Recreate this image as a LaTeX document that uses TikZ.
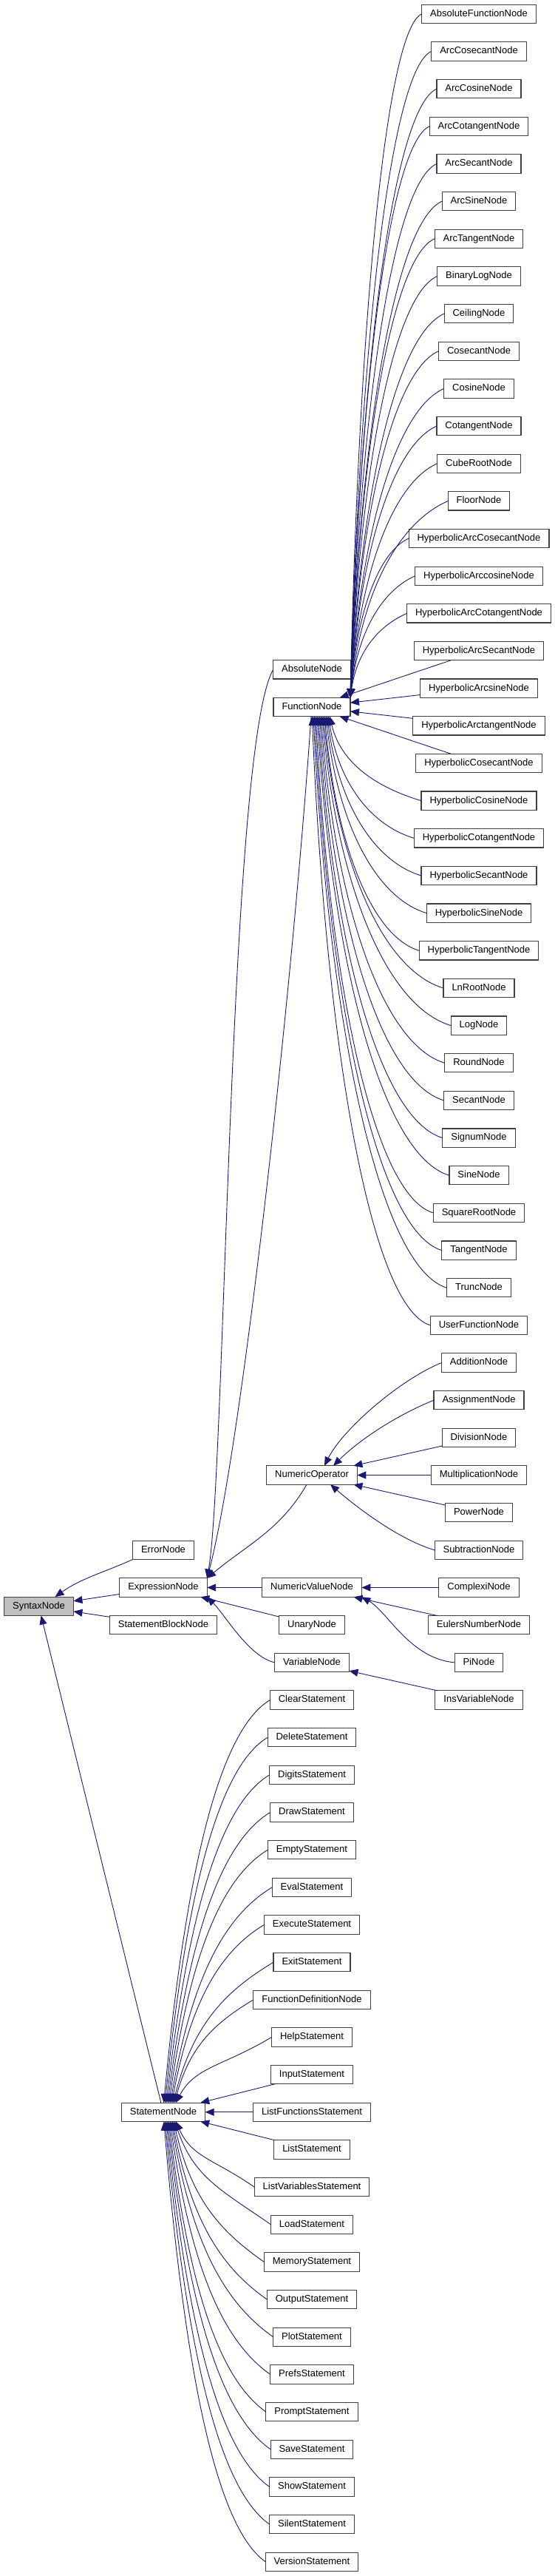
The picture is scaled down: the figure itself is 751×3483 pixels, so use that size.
\documentclass[tikz,border=0pt]{standalone}
\usepackage{fontspec}
\setmainfont{Liberation Sans}
\usetikzlibrary{arrows.meta,positioning,calc}
\definecolor{dgEdge}{HTML}{191970}
\definecolor{dgFrame}{HTML}{404040}
\definecolor{dgRoot}{HTML}{BFBFBF}
\tikzset{
  % class box
  cls/.style={rectangle,draw=dgFrame,line width=1.1pt,fill=white,
    minimum height=25.3pt,inner xsep=11.5pt,inner ysep=0pt,outer sep=0pt,
    text height=9.5pt,text depth=2.8pt,
    font=\fontsize{13pt}{15pt}\selectfont,text=black},
  % base class (grey)
  rootcls/.style={cls,fill=dgRoot},
  % inheritance arrow, tip at the parent
  inh/.style={{Triangle[length=12pt,width=10pt]}-,line width=0.9pt,draw=dgEdge},
}
\begin{document}
\begin{tikzpicture}[x=1pt,y=-1pt,node distance=25.36pt]
  \useasboundingbox (0,0) rectangle (751,3483);

  % right column
  \node[cls] (afn) at (648,18.8) {AbsoluteFunctionNode};
  \node[cls,below=of afn] (acsc) {ArcCosecantNode};
  \node[cls,below=of acsc] (acos) {ArcCosineNode};
  \node[cls,below=of acos] (acot) {ArcCotangentNode};
  \node[cls,below=of acot] (asec) {ArcSecantNode};
  \node[cls,below=of asec] (asin) {ArcSineNode};
  \node[cls,below=of asin] (atan) {ArcTangentNode};
  \node[cls,below=of atan] (blog) {BinaryLogNode};
  \node[cls,below=of blog] (ceil) {CeilingNode};
  \node[cls,below=of ceil] (csc) {CosecantNode};
  \node[cls,below=of csc] (cos) {CosineNode};
  \node[cls,below=of cos] (cot) {CotangentNode};
  \node[cls,below=of cot] (cbrt) {CubeRootNode};
  \node[cls,below=of cbrt] (flr) {FloorNode};
  \node[cls,below=of flr] (hacsc) {HyperbolicArcCosecantNode};
  \node[cls,below=of hacsc] (hacos) {HyperbolicArccosineNode};
  \node[cls,below=of hacos] (hacot) {HyperbolicArcCotangentNode};
  \node[cls,below=of hacot] (hasec) {HyperbolicArcSecantNode};
  \node[cls,below=of hasec] (hasin) {HyperbolicArcsineNode};
  \node[cls,below=of hasin] (hatan) {HyperbolicArctangentNode};
  \node[cls,below=of hatan] (hcsc) {HyperbolicCosecantNode};
  \node[cls,below=of hcsc] (hcos) {HyperbolicCosineNode};
  \node[cls,below=of hcos] (hcot) {HyperbolicCotangentNode};
  \node[cls,below=of hcot] (hsec) {HyperbolicSecantNode};
  \node[cls,below=of hsec] (hsin) {HyperbolicSineNode};
  \node[cls,below=of hsin] (htan) {HyperbolicTangentNode};
  \node[cls,below=of htan] (lnr) {LnRootNode};
  \node[cls,below=of lnr] (lg) {LogNode};
  \node[cls,below=of lg] (rnd) {RoundNode};
  \node[cls,below=of rnd] (sec) {SecantNode};
  \node[cls,below=of sec] (sgn) {SignumNode};
  \node[cls,below=of sgn] (sin) {SineNode};
  \node[cls,below=of sin] (sqr) {SquareRootNode};
  \node[cls,below=of sqr] (tng) {TangentNode};
  \node[cls,below=of tng] (trc) {TruncNode};
  \node[cls,below=of trc] (ufn) {UserFunctionNode};
  \node[cls,below=of ufn] (add) {AdditionNode};
  \node[cls,below=of add] (asg) {AssignmentNode};
  \node[cls,below=of asg] (dvn) {DivisionNode};
  \node[cls,below=of dvn] (mul) {MultiplicationNode};
  \node[cls,below=of mul] (pwr) {PowerNode};
  \node[cls,below=of pwr] (sbt) {SubtractionNode};
  \node[cls,below=of sbt] (cpx) {ComplexiNode};
  \node[cls,below=of cpx] (eul) {EulersNumberNode};
  \node[cls,below=of eul] (pin) {PiNode};
  \node[cls,below=of pin] (ivn) {InsVariableNode};

  % middle column
  \node[cls] (abn) at (422,905.3) {AbsoluteNode};
  \node[cls,below=of abn] (fn) {FunctionNode};
  \node[cls] (nop) at (abn |- mul) {NumericOperator};
  \node[cls] (nvn) at (abn |- cpx) {NumericValueNode};
  \node[cls] (un) at (abn |- eul) {UnaryNode};
  \node[cls] (vn) at (abn |- pin) {VariableNode};
  \node[cls] (clr) at (abn |- ivn) {ClearStatement};
  \node[cls,below=of clr] (del) {DeleteStatement};
  \node[cls,below=of del] (dig) {DigitsStatement};
  \node[cls,below=of dig] (drw) {DrawStatement};
  \node[cls,below=of drw] (emp) {EmptyStatement};
  \node[cls,below=of emp] (evl) {EvalStatement};
  \node[cls,below=of evl] (exe) {ExecuteStatement};
  \node[cls,below=of exe] (ext) {ExitStatement};
  \node[cls,below=of ext] (fdn) {FunctionDefinitionNode};
  \node[cls,below=of fdn] (hlp) {HelpStatement};
  \node[cls,below=of hlp] (inp) {InputStatement};
  \node[cls,below=of inp] (lfs) {ListFunctionsStatement};
  \node[cls,below=of lfs] (lst) {ListStatement};
  \node[cls,below=of lst] (lvs) {ListVariablesStatement};
  \node[cls,below=of lvs] (lod) {LoadStatement};
  \node[cls,below=of lod] (mem) {MemoryStatement};
  \node[cls,below=of mem] (opt) {OutputStatement};
  \node[cls,below=of opt] (plt) {PlotStatement};
  \node[cls,below=of plt] (prf) {PrefsStatement};
  \node[cls,below=of prf] (prm) {PromptStatement};
  \node[cls,below=of prm] (sav) {SaveStatement};
  \node[cls,below=of sav] (shw) {ShowStatement};
  \node[cls,below=of shw] (sil) {SilentStatement};
  \node[cls,below=of sil] (ver) {VersionStatement};

  % left columns
  \node[cls] (err) at (221,0 |- sbt) {ErrorNode};
  \node[cls] (exn) at (err |- cpx) {ExpressionNode};
  \node[cls] (sbn) at (err |- eul) {StatementBlockNode};
  \node[cls] (stn) at (err |- lfs) {StatementNode};
  \node[rootcls] (syn) at (52.5,2171.8) {SyntaxNode};

  % SyntaxNode
  \draw[inh] ([xshift=22pt]syn.north) .. controls +(35,-25) and +(-40,18) .. (err.south west);
  \draw[inh] (syn) -- (exn);
  \draw[inh] (syn) -- (sbn);
  \draw[inh] (syn) -- (stn);

  % ExpressionNode
  \draw[inh] (exn.north east) .. controls +(25,-142) and +(-60,104) .. (abn.west);
  \draw[inh] (exn.north east) .. controls +(47,-177) and +(-25,365) .. ([xshift=-1pt]fn.south);
  \draw[inh] (exn.north east) .. controls +(55,-46) and +(-36,62) .. ([xshift=-7pt]nop.south);
  \draw[inh] (exn) -- (nvn);
  \draw[inh] (exn) -- (un);
  \draw[inh] (exn.south east) .. controls +(25,25) and +(-35,-8) .. (vn.west);

  % NumericOperator, NumericValueNode, VariableNode
  \draw[inh] ([xshift=17pt]nop.north) .. controls +(25,-50) and +(-55,22) .. (add.west);
  \draw[inh] ([xshift=29pt]nop.north) .. controls +(35,-35) and +(-50,20) .. (asg.west);
  \draw[inh] (nop) -- (dvn);
  \draw[inh] (nop) -- (mul);
  \draw[inh] (nop) -- (pwr);
  \draw[inh] ([xshift=25pt]nop.south) .. controls +(35,30) and +(-50,-15) .. (sbt.west);
  \draw[inh] (nvn) -- (cpx);
  \draw[inh] (nvn) -- (eul);
  \draw[inh] (nvn.south east) .. controls +(35,20) and +(-60,-5) .. (pin.west);
  \draw[inh] (vn) -- (ivn);

  % FunctionNode
  \foreach \cn in {afn,acsc,acos,acot,asec,asin,atan,blog,ceil,csc,cos,cot,cbrt,flr,hacsc,hacos,hacot}
    \draw[inh] let \p1=(fn.north east), \p2=(\cn.west) in
      (\p1) .. controls ({\x1+0.12*(\x2-\x1)},{\y1+0.55*(\y2-\y1)})
        and ({\x2-0.5*(\x2-\x1)},{\y2-0.22*(\x2-\x1)}) .. (\p2);
  \foreach \cn in {hasec,hasin,hatan,hcsc}
    \draw[inh] (fn) -- (\cn);
  \foreach \cn in {hcos,hcot,hsec,hsin,htan,lnr,lg,rnd,sec,sgn,sin,sqr,tng,trc,ufn}
    \draw[inh] let \p1=(fn.south), \p2=(\cn.west),
        \p3=({\x1+28pt*(1-(\y1-\y2)/830pt)},\y1) in
      (\p3) .. controls ({\x3+0.12*(\x2-\x3)},{\y3+0.55*(\y2-\y3)})
        and ({\x2-0.5*(\x2-\x3)},{\y2+0.15*(\x2-\x3)}) .. (\p2);

  % StatementNode
  \foreach \cn in {clr,del,dig,drw,emp,evl,exe,ext,fdn,hlp}
    \draw[inh] let \p1=(stn.north), \p2=(\cn.west),
        \p3=({\x1+20pt*(1-(\y2-\y1)/560pt)},\y1) in
      (\p3) .. controls ({\x3+0.2*(\x2-\x3)},{\y3+0.55*(\y2-\y3)})
        and ({\x2-0.5*(\x2-\x3)},{\y2-0.3*(\x2-\x3)}) .. (\p2);
  \foreach \cn in {inp,lfs,lst}
    \draw[inh] (stn) -- (\cn);
  \foreach \cn in {lvs,lod,mem,opt,plt,prf,prm,sav,shw,sil,ver}
    \draw[inh] let \p1=(stn.south), \p2=(\cn.west),
        \p3=({\x1+20pt*(1-(\y1-\y2)/620pt)},\y1) in
      (\p3) .. controls ({\x3+0.2*(\x2-\x3)},{\y3+0.55*(\y2-\y3)})
        and ({\x2-0.5*(\x2-\x3)},{\y2+0.35*(\x2-\x3)}) .. (\p2);
\end{tikzpicture}
\end{document}
